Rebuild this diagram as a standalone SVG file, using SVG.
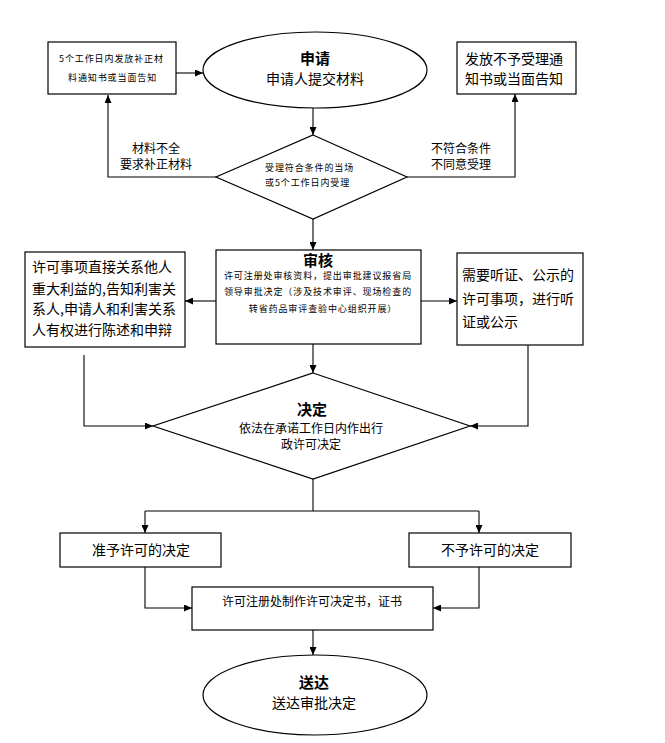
<svg xmlns="http://www.w3.org/2000/svg" width="665" height="743" viewBox="0 0 665 743">
<defs>
<marker id="arr" markerUnits="userSpaceOnUse" markerWidth="8" markerHeight="7" refX="8" refY="3.5" orient="auto">
<path d="M0,0 L8,3.5 L0,7 z" fill="#000"/>
</marker>
<style>
.n{fill:#fff;stroke:#000;stroke-width:1.2}
.c{fill:none;stroke:#000;stroke-width:1.1}
.a{marker-end:url(#arr)}
text{font-family:"Noto Sans CJK SC","Liberation Sans",sans-serif;fill:#000}
.t14{font-size:14px}
.t12{font-size:12px}
.t9{font-size:9px;letter-spacing:0.9px}
.b{font-weight:bold;font-size:15px}
.m{text-anchor:middle}
</style>
</defs>
<rect width="665" height="743" fill="#fff"/>
<g id="connectors">
<line class="c a" x1="176" y1="73" x2="203" y2="73"/>
<line class="c a" x1="313" y1="108" x2="313" y2="135"/>
<polyline class="c a" points="216,177 108,177 108,95"/>
<polyline class="c a" points="407,177 515,177 515,94"/>
<line class="c a" x1="313" y1="219" x2="313" y2="250"/>
<line class="c a" x1="216" y1="301" x2="185" y2="301"/>
<line class="c a" x1="421" y1="301" x2="457" y2="301"/>
<line class="c a" x1="313" y1="344" x2="313" y2="373"/>
<polyline class="c a" points="84,355 84,426 153,426"/>
<polyline class="c a" points="528,345 528,426 470,426"/>
<line class="c" x1="313" y1="479" x2="313" y2="511"/>
<line class="c" x1="145" y1="511" x2="479" y2="511"/>
<line class="c a" x1="145" y1="511" x2="145" y2="533"/>
<line class="c a" x1="479" y1="511" x2="479" y2="533"/>
<polyline class="c a" points="145,567 145,608 192,608"/>
<polyline class="c a" points="479,567 479,608 433,608"/>
<line class="c a" x1="313" y1="630" x2="313" y2="655"/>
<text class="t12 m" x="156" y="153">材料不全</text>
<text class="t12 m" x="156" y="169">要求补正材料</text>
<text class="t12" x="431" y="153">不符合条件</text>
<text class="t12" x="431" y="169">不同意受理</text>
</g>
<g id="notice-supplement">
<rect class="n" x="48" y="42" width="128" height="52"/>
<text class="t9" x="59" y="62">5个工作日内发放补正材</text>
<text class="t9" x="68" y="81">料通知书或当面告知</text>
</g>
<g id="apply">
<ellipse class="n" cx="315" cy="70" rx="112" ry="38"/>
<text class="b m" x="315" y="64">申请</text>
<text class="t14 m" x="315" y="84">申请人提交材料</text>
</g>
<g id="notice-reject">
<rect class="n" x="457" y="42" width="119" height="52"/>
<text class="t14" x="465" y="64">发放不予受理通</text>
<text class="t14" x="465" y="84">知书或当面告知</text>
</g>
<g id="accept">
<polygon class="n" points="313,135 407,177 313,219 216,177"/>
<text class="t9" x="265" y="171">受理符合条件的当场</text>
<text class="t9" x="265" y="186">或5个工作日内受理</text>
</g>
<g id="review">
<rect class="n" x="216" y="250" width="205" height="94"/>
<text class="b m" x="318" y="266">审核</text>
<text class="t9 m" x="318" y="279">许可注册处审核资料，提出审批建议报省局</text>
<text class="t9 m" x="318" y="295">领导审批决定（涉及技术审评、现场检查的</text>
<text class="t9 m" x="323" y="312">转省药品审评查验中心组织开展）</text>
</g>
<g id="statement">
<rect class="n" x="25" y="252" width="160" height="95"/>
<text class="t14" x="32" y="272">许可事项直接关系他人</text>
<text class="t14" x="32" y="294">重大利益的,告知利害关</text>
<text class="t14" x="32" y="314">系人,申请人和利害关系</text>
<text class="t14" x="32" y="335">人有权进行陈述和申辩</text>
</g>
<g id="hearing">
<rect class="n" x="457" y="253" width="126" height="92"/>
<text class="t14" x="462" y="280">需要听证、公示的</text>
<text class="t14" x="462" y="304">许可事项，进行听</text>
<text class="t14" x="462" y="327">证或公示</text>
</g>
<g id="decide">
<polygon class="n" points="313,373 470,426 313,479 153,426"/>
<text class="b m" x="312" y="415">决定</text>
<text class="t12 m" x="311" y="433">依法在承诺工作日内作出行</text>
<text class="t12 m" x="311" y="449">政许可决定</text>
</g>
<g id="grant">
<rect class="n" x="60" y="533" width="161" height="34"/>
<text class="t14 m" x="141" y="555">准予许可的决定</text>
</g>
<g id="deny">
<rect class="n" x="409" y="533" width="162" height="34"/>
<text class="t14 m" x="490" y="555">不予许可的决定</text>
</g>
<g id="certificate">
<rect class="n" x="192" y="587" width="241" height="43"/>
<text class="t12 m" x="312" y="606">许可注册处制作许可决定书，证书</text>
</g>
<g id="deliver">
<ellipse class="n" cx="315" cy="695" rx="112" ry="40"/>
<text class="b m" x="314" y="688">送达</text>
<text class="t14 m" x="314" y="708">送达审批决定</text>
</g>
</svg>
